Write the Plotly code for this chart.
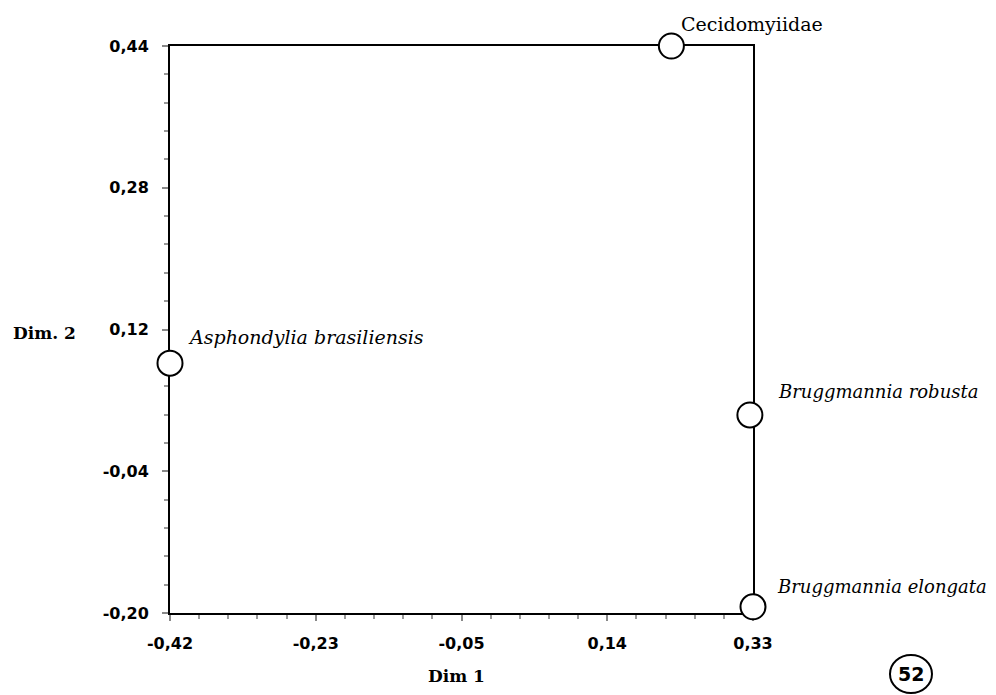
import plotly.graph_objects as go
import numpy as np

# Data
taxa = ["Cecidomyiidae", "Asphondylia brasiliensis", "Bruggmannia robusta", "Bruggmannia elongata"]
dim1 = [0.225, -0.42, 0.326, 0.33]
dim2 = [0.44, 0.082, 0.0235, -0.193]
italic = [False, True, True, True]
label_size = [19, 19, 18, 18]

x_tickvals = [-0.42, -0.2325, -0.045, 0.1425, 0.33]
x_ticktext = ["-0,42", "-0,23", "-0,05", "0,14", "0,33"]
y_tickvals = [-0.20, -0.04, 0.12, 0.28, 0.44]
y_ticktext = ["-0,20", "-0,04", "0,12", "0,28", "0,44"]

# label offsets (pixels) relative to each point
label_dx = [8, 16, 26, 22]
label_dy = [22, 26, 23, 20]


def minor_between(majors, n_sub):
    vals = []
    for a, b in zip(majors[:-1], majors[1:]):
        vals.extend(np.linspace(a, b, n_sub + 1)[1:-1].tolist())
    return vals


fig = go.Figure()
fig.add_trace(go.Scatter(
    x=dim1, y=dim2, mode="markers",
    marker=dict(symbol="circle", size=25, color="white",
                line=dict(color="black", width=2)),
    cliponaxis=False, hoverinfo="text", text=taxa, showlegend=False,
))

for name, xv, yv, it, dx, dy, fs in zip(taxa, dim1, dim2, italic, label_dx, label_dy, label_size):
    fig.add_annotation(
        x=xv, y=yv, xref="x", yref="y", text=name, showarrow=False,
        xanchor="left", yanchor="middle", xshift=dx, yshift=dy,
        font=dict(family="DejaVu Serif", size=fs, color="black",
                  style="italic" if it else "normal"),
    )

axis_common = dict(
    showgrid=False, zeroline=False, showline=True, linecolor="black",
    linewidth=2, mirror=True, ticks="outside", ticklen=6, tickcolor="#888",
    tickwidth=2, layer="below traces",
    tickfont=dict(family="DejaVu Sans", size=16, color="black", weight="bold"),
)

fig.update_xaxes(
    range=[-0.42, 0.33], tickmode="array", tickvals=x_tickvals, ticktext=x_ticktext,
    minor=dict(tickmode="array", tickvals=minor_between(x_tickvals, 5), ticks="outside",
               ticklen=4, tickcolor="#999", tickwidth=2, showgrid=False),
    ticklabelstandoff=9, **axis_common,
)
fig.update_yaxes(
    range=[-0.20, 0.44], tickmode="array", tickvals=y_tickvals, ticktext=y_ticktext,
    minor=dict(tickmode="array", tickvals=minor_between(y_tickvals, 5), ticks="outside",
               ticklen=4, tickcolor="#999", tickwidth=2, showgrid=False),
    ticklabelstandoff=10, **axis_common,
)

# axis titles
fig.add_annotation(x=0.4906, y=-0.111, xref="paper", yref="paper", text="Dim 1",
                   showarrow=False, xanchor="center", yanchor="middle",
                   font=dict(family="DejaVu Serif", size=17, color="black", weight="bold"))
fig.add_annotation(x=-0.216, y=0.4938, xref="paper", yref="paper", text="Dim. 2",
                   showarrow=False, xanchor="center", yanchor="middle",
                   font=dict(family="DejaVu Serif", size=17, color="black", weight="bold"))

# circled figure number
fig.add_shape(type="circle", xref="paper", yref="paper",
              xsizemode="pixel", ysizemode="pixel",
              xanchor=1.271, yanchor=-0.1076, x0=-21, x1=21, y0=-19, y1=19,
              line=dict(color="black", width=2))
fig.add_annotation(x=1.271, y=-0.1076, xref="paper", yref="paper", text="52",
                   showarrow=False, xanchor="center", yanchor="middle",
                   font=dict(family="DejaVu Sans", size=19, color="black", weight="bold"))

fig.update_layout(
    width=996, height=695,
    margin=dict(l=170, r=243, t=46, b=82),
    paper_bgcolor="white", plot_bgcolor="white",
)

fig.write_html("out.html")
